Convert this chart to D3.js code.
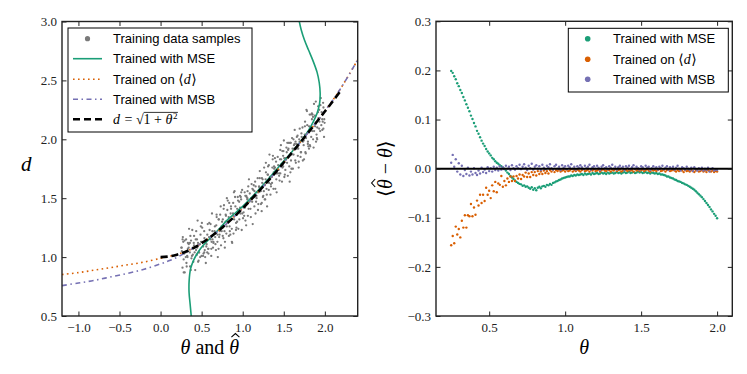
<!DOCTYPE html>
<html>
<head>
<meta charset="utf-8">
<script src="https://cdn.jsdelivr.net/npm/d3@7"></script>
<style>
  body { margin: 0; background: #fff; }
  svg { display: block; }
  svg text { white-space: pre; }
</style>
</head>
<body>
<div id="chart"></div>
<script>
// ---- Data ----

// left panel: training samples [theta, d]
var trainSamples = [
  [0.253,1.08],[0.267,0.91],[0.259,1.05],[0.271,1.17],[0.281,0.98],[0.288,1.03],[0.276,1.13],[0.294,0.87],
  [0.311,1.15],[0.324,1.01],[0.304,1.04],[0.315,0.95],[0.333,1.12],[0.347,1.24],[0.328,1.00],[0.342,1.08],
  [0.359,0.92],[0.371,1.14],[0.356,1.04],[0.363,1.18],[0.376,0.99],[0.394,1.08],[0.386,1.23],[0.399,0.96],
  [0.404,1.12],[0.415,1.04],[0.408,1.18],[0.422,0.89],[0.428,1.15],[0.442,1.02],[0.434,1.22],[0.446,1.08],
  [0.456,1.12],[0.463,0.97],[0.451,1.31],[0.469,1.04],[0.486,1.19],[0.499,1.01],[0.479,1.11],[0.490,1.26],
  [0.508,1.13],[0.522,1.03],[0.503,1.29],[0.517,1.01],[0.534,1.16],[0.546,1.13],[0.531,1.22],[0.538,1.06],
  [0.551,0.95],[0.569,1.19],[0.561,1.11],[0.574,1.28],[0.579,1.07],[0.590,1.17],[0.583,1.03],[0.597,1.23],
  [0.603,1.16],[0.617,1.01],[0.609,1.28],[0.621,1.13],[0.631,1.22],[0.638,1.08],[0.626,1.37],[0.644,1.12],
  [0.661,1.26],[0.674,1.06],[0.654,1.20],[0.665,1.17],[0.683,1.34],[0.697,1.00],[0.678,1.27],[0.692,1.13],
  [0.709,1.32],[0.721,1.22],[0.706,1.07],[0.713,1.17],[0.726,1.36],[0.744,1.22],[0.736,1.10],[0.749,1.30],
  [0.754,1.25],[0.765,1.16],[0.758,1.32],[0.772,1.44],[0.778,1.22],[0.792,1.30],[0.784,1.13],[0.796,1.35],
  [0.806,1.26],[0.813,1.40],[0.801,1.20],[0.819,1.29],[0.836,1.46],[0.849,1.19],[0.829,1.34],[0.840,1.26],
  [0.858,1.41],[0.872,1.12],[0.853,1.37],[0.867,1.24],[0.884,1.46],[0.896,1.32],[0.881,1.35],[0.888,1.20],
  [0.901,1.56],[0.919,1.29],[0.911,1.43],[0.924,1.25],[0.929,1.36],[0.940,1.51],[0.933,1.41],[0.947,1.24],
  [0.953,1.40],[0.967,1.52],[0.959,1.32],[0.971,1.37],[0.981,1.49],[0.988,1.23],[0.976,1.51],[0.994,1.37],
  [1.011,1.38],[1.024,1.55],[1.004,1.33],[1.015,1.43],[1.033,1.31],[1.047,1.51],[1.028,1.42],[1.042,1.27],
  [1.059,1.56],[1.071,1.41],[1.056,1.49],[1.063,1.35],[1.076,1.66],[1.094,1.41],[1.086,1.54],[1.099,1.34],
  [1.104,1.50],[1.115,1.47],[1.108,1.62],[1.122,1.28],[1.128,1.57],[1.142,1.43],[1.134,1.61],[1.146,1.51],
  [1.156,1.37],[1.163,1.47],[1.151,1.64],[1.169,1.50],[1.186,1.40],[1.199,1.60],[1.179,1.55],[1.190,1.45],
  [1.208,1.73],[1.222,1.45],[1.203,1.59],[1.217,1.56],[1.234,1.67],[1.246,1.51],[1.231,1.39],[1.238,1.63],
  [1.251,1.52],[1.269,1.61],[1.261,1.76],[1.274,1.49],[1.279,1.66],[1.290,1.58],[1.283,1.72],[1.297,1.43],
  [1.303,1.70],[1.317,1.57],[1.309,1.77],[1.321,1.63],[1.331,1.68],[1.338,1.53],[1.326,1.87],[1.344,1.60],
  [1.361,1.76],[1.374,1.58],[1.354,1.68],[1.365,1.83],[1.383,1.75],[1.397,1.58],[1.378,1.72],[1.392,1.84],
  [1.409,1.66],[1.421,1.71],[1.406,1.81],[1.413,1.55],[1.426,1.85],[1.444,1.71],[1.436,1.74],[1.449,1.65],
  [1.454,1.83],[1.465,1.95],[1.458,1.71],[1.472,1.79],[1.478,1.64],[1.492,1.86],[1.484,1.76],[1.496,1.90],
  [1.506,1.84],[1.513,1.70],[1.501,1.99],[1.519,1.74],[1.536,1.89],[1.549,1.69],[1.529,1.83],[1.540,1.80],
  [1.558,1.97],[1.572,1.64],[1.553,1.91],[1.567,1.77],[1.584,1.97],[1.596,1.87],[1.581,1.72],[1.588,1.82],
  [1.601,2.01],[1.619,1.87],[1.611,1.75],[1.624,1.95],[1.629,1.92],[1.640,1.82],[1.633,2.08],[1.647,1.80],
  [1.653,1.96],[1.667,1.93],[1.659,2.02],[1.671,1.86],[1.681,1.76],[1.688,2.00],[1.676,1.92],[1.694,2.09],
  [1.711,1.89],[1.724,1.99],[1.704,1.85],[1.715,2.05],[1.733,1.98],[1.747,1.83],[1.728,2.10],[1.742,1.95],
  [1.759,2.15],[1.771,2.01],[1.756,2.04],[1.763,1.89],[1.776,2.25],[1.794,1.98],[1.786,2.12],[1.799,1.94],
  [1.804,2.06],[1.815,2.21],[1.808,2.11],[1.822,1.94],[1.828,2.10],[1.842,2.22],[1.834,2.02],[1.846,2.07],
  [1.856,2.19],[1.863,1.93],[1.851,2.21],[1.869,2.07],[1.886,2.13],[1.899,2.04],[1.879,2.20],[1.890,2.32],
  [1.908,2.10],[1.922,2.18],[1.903,2.01],[1.917,2.23],[1.934,2.15],[1.946,2.29],[1.931,2.09],[1.938,2.18],
  [1.951,2.35],[1.969,2.08],[1.961,2.23],[1.974,2.15],[1.979,2.31],[1.990,2.02],[1.983,2.27],[1.997,2.14],
  [0.257,1.08],[0.268,1.15],[0.282,0.87],[0.293,1.14],[0.307,1.00],[0.318,0.92],[0.332,1.07],[0.343,1.11],
  [0.357,1.12],[0.368,0.89],[0.382,1.01],[0.393,1.02],[0.407,1.10],[0.418,1.09],[0.432,1.06],[0.443,1.15],
  [0.457,0.96],[0.468,1.04],[0.482,1.00],[0.493,1.13],[0.507,1.25],[0.518,1.09],[0.532,1.04],[0.543,1.00],
  [0.557,1.09],[0.568,1.04],[0.582,1.07],[0.593,1.29],[0.607,1.15],[0.618,1.07],[0.632,1.15],[0.643,1.13],
  [0.657,1.22],[0.668,1.11],[0.682,1.36],[0.693,1.19],[0.707,1.32],[0.718,1.19],[0.732,1.43],[0.743,1.26],
  [0.757,1.18],[0.768,1.41],[0.782,1.08],[0.793,1.36],[0.807,1.50],[0.818,1.48],[0.832,1.18],[0.843,1.22],
  [0.857,1.43],[0.868,1.13],[0.882,1.37],[0.893,1.55],[0.907,1.51],[0.918,1.23],[0.932,1.30],[0.943,1.48],
  [0.957,1.47],[0.968,1.42],[0.982,1.55],[0.993,1.57],[1.007,1.42],[1.018,1.35],[1.032,1.52],[1.043,1.52],
  [1.057,1.50],[1.068,1.60],[1.082,1.47],[1.093,1.48],[1.107,1.50],[1.118,1.58],[1.132,1.51],[1.143,1.56],
  [1.157,1.60],[1.168,1.52],[1.182,1.67],[1.193,1.55],[1.207,1.67],[1.218,1.56],[1.232,1.46],[1.243,1.66],
  [1.257,1.56],[1.268,1.49],[1.282,1.80],[1.293,1.53],[1.307,1.70],[1.318,1.78],[1.332,1.66],[1.343,1.62],
  [1.357,1.63],[1.368,1.86],[1.382,1.77],[1.393,1.76],[1.407,1.71],[1.418,1.72],[1.432,1.78],[1.443,1.69],
  [1.457,1.91],[1.468,1.83],[1.482,1.90],[1.493,1.77],[1.507,1.68],[1.518,1.84],[1.532,1.93],[1.543,1.97],
  [1.557,1.92],[1.568,1.97],[1.582,1.97],[1.593,1.75],[1.607,1.92],[1.618,2.00],[1.632,1.96],[1.643,1.98],
  [1.657,1.92],[1.668,2.03],[1.682,1.81],[1.693,1.98],[1.707,1.89],[1.718,2.02],[1.732,1.82],[1.743,1.99],
  [1.757,2.11],[1.768,1.88],[1.782,2.24],[1.793,1.96],[1.807,1.92],[1.818,1.95],[1.832,2.21],[1.843,2.17],
  [1.857,2.00],[1.868,2.30],[1.882,2.11],[1.893,1.98],[1.907,2.00],[1.918,2.28],[1.932,2.25],[1.943,2.07],
  [1.957,2.12],[1.968,2.17],[1.982,2.09],[1.993,2.17]
];

// left panel curves [theta, d]
var mseCurve = [
  [0.376,0.48],[0.36,0.6],[0.347,0.7],[0.348,0.8],[0.365,0.9],[0.40,0.97],[0.437,1.02],[0.49,1.075],
  [0.54,1.115],[0.68,1.215],[0.82,1.32],[1.0,1.43],[1.2,1.575],[1.45,1.775],[1.6,1.895],[1.72,1.995],
  [1.805,2.08],[1.86,2.15],[1.905,2.22],[1.935,2.30],[1.943,2.39],[1.932,2.48],[1.905,2.57],[1.854,2.67],
  [1.80,2.76],[1.753,2.84],[1.712,2.93],[1.683,3.02]
];
var meanDCurve = [
  [-1.2,0.852],[-1.0,0.868],[-0.8,0.89],[-0.6,0.912],[-0.4,0.935],[-0.2,0.958],[0.0,0.99],[0.1,1.006],
  [0.2,1.023],[0.3,1.045],[0.4,1.077],[0.6,1.166],[0.8,1.281],[1.0,1.414],[1.2,1.562],[1.4,1.72],
  [1.6,1.887],[1.8,2.06],[2.0,2.24],[2.1,2.335],[2.2,2.44],[2.3,2.555],[2.4,2.675]
];
var msbCurve = [
  [-1.2,0.758],[-1.0,0.78],[-0.8,0.803],[-0.6,0.833],[-0.4,0.862],[-0.2,0.897],[0.0,0.943],[0.1,0.968],
  [0.2,0.998],[0.3,1.036],[0.4,1.077],[0.6,1.166],[0.8,1.281],[1.0,1.414],[1.2,1.562],[1.4,1.72],
  [1.6,1.887],[1.8,2.06],[2.0,2.24],[2.1,2.335],[2.2,2.44],[2.3,2.555],[2.4,2.675]
];
var trueCurve = [
  [0.0,1.0],[0.1,1.005],[0.2,1.020],[0.3,1.044],[0.4,1.077],[0.5,1.118],[0.6,1.166],[0.7,1.221],
  [0.8,1.281],[0.9,1.345],[1.0,1.414],[1.1,1.487],[1.2,1.562],[1.3,1.640],[1.4,1.720],[1.5,1.803],
  [1.6,1.887],[1.7,1.972],[1.8,2.059],[1.9,2.147],[2.0,2.236],[2.1,2.326],[2.18,2.40]
];

// right panel: bias <theta_hat - theta> on the theta grid 0.25 ... 2.00
var thetaGrid = d3.range(25, 201).map(function(i) { return i / 100; });
var biasMSE = [
  0.199,0.195,0.188,0.182,0.174,0.168,0.160,0.154,0.146,0.139,
  0.131,0.124,0.117,0.108,0.101,0.093,0.086,0.077,0.071,0.064,
  0.057,0.051,0.046,0.040,0.035,0.031,0.027,0.022,0.019,0.015,
  0.012,0.010,0.007,0.005,0.002,0.000,-0.004,-0.008,-0.011,-0.015,
  -0.018,-0.021,-0.024,-0.027,-0.029,-0.031,-0.032,-0.035,-0.034,-0.037,
  -0.036,-0.039,-0.041,-0.038,-0.043,-0.040,-0.044,-0.039,-0.037,-0.040,
  -0.036,-0.035,-0.037,-0.033,-0.034,-0.031,-0.033,-0.029,-0.028,-0.026,
  -0.025,-0.023,-0.022,-0.020,-0.019,-0.018,-0.017,-0.016,-0.016,-0.014,
  -0.015,-0.013,-0.014,-0.012,-0.013,-0.012,-0.011,-0.013,-0.010,-0.012,
  -0.011,-0.010,-0.012,-0.009,-0.011,-0.010,-0.009,-0.011,-0.010,-0.008,
  -0.010,-0.009,-0.011,-0.008,-0.010,-0.009,-0.008,-0.010,-0.009,-0.007,
  -0.009,-0.008,-0.010,-0.008,-0.007,-0.009,-0.008,-0.006,-0.009,-0.008,
  -0.007,-0.009,-0.008,-0.006,-0.008,-0.007,-0.009,-0.008,-0.007,-0.009,
  -0.008,-0.010,-0.008,-0.009,-0.010,-0.009,-0.011,-0.010,-0.012,-0.012,
  -0.013,-0.014,-0.016,-0.016,-0.018,-0.019,-0.020,-0.022,-0.023,-0.025,
  -0.026,-0.027,-0.029,-0.030,-0.032,-0.033,-0.035,-0.037,-0.039,-0.041,
  -0.043,-0.046,-0.049,-0.052,-0.055,-0.058,-0.062,-0.066,-0.070,-0.074,
  -0.078,-0.083,-0.087,-0.092,-0.096,-0.101
];
var biasMeanD = [
  -0.156,-0.137,-0.152,-0.118,-0.134,-0.123,-0.140,-0.106,-0.120,-0.095,
  -0.120,-0.095,-0.097,-0.072,-0.097,-0.079,-0.094,-0.065,-0.075,-0.053,
  -0.070,-0.053,-0.066,-0.039,-0.053,-0.045,-0.060,-0.034,-0.046,-0.027,
  -0.048,-0.030,-0.033,-0.015,-0.037,-0.025,-0.034,-0.020,-0.027,-0.016,
  -0.025,-0.016,-0.025,-0.015,-0.020,-0.012,-0.021,-0.013,-0.016,-0.008,
  -0.017,-0.010,-0.017,-0.007,-0.013,-0.007,-0.014,-0.005,-0.011,-0.006,
  -0.011,-0.004,-0.009,-0.005,-0.010,-0.003,
  -0.006,-0.002,-0.007,-0.003,-0.005,-0.002,-0.006,-0.004,-0.003,-0.006,
  -0.002,-0.005,-0.004,-0.001,-0.006,-0.003,-0.005,-0.002,-0.004,-0.006,
  -0.003,-0.001,-0.005,-0.004,-0.002,-0.006,-0.003,-0.004,-0.001,-0.005,
  -0.004,-0.002,-0.006,-0.003,-0.001,-0.004,-0.005,-0.002,-0.003,-0.006,
  -0.002,-0.004,-0.001,-0.005,-0.003,-0.002,-0.006,-0.004,-0.001,-0.003,
  -0.005,-0.002,-0.004,-0.003,-0.006,-0.001,-0.004,-0.002,-0.005,-0.003,
  -0.002,-0.005,-0.003,-0.001,-0.004,-0.006,-0.002,-0.004,-0.003,-0.005,
  -0.003,-0.001,-0.005,-0.004,-0.002,-0.006,-0.003,-0.002,-0.005,-0.004,
  -0.002,-0.004,-0.006,-0.003,-0.005,-0.002,-0.004,-0.007,-0.003,-0.005,
  -0.004,-0.006,-0.003,-0.005,-0.007,-0.004,-0.002,-0.006,-0.005,-0.003,
  -0.006,-0.004,-0.007,-0.003,-0.005,-0.006,-0.004,-0.007,-0.005,-0.006
];
var biasMSB = [
  0.012,0.028,0.004,0.019,-0.006,0.011,-0.012,0.006,-0.015,-0.003,
  -0.011,0.002,-0.014,-0.006,-0.012,0.001,-0.009,-0.013,-0.004,-0.010,
  0.002,-0.007,-0.002,-0.009,0.003,-0.005,0.001,-0.006,0.004,-0.003,
  0.002,-0.004,0.005,-0.002,0.003,-0.001,0.006,0.000,0.004,-0.003,
  0.007,0.001,
  -0.002,0.005,0.001,0.008,
  -0.001,0.004,0.009,0.002,-0.003,0.006,0.001,0.010,-0.002,0.004,
  0.007,0.000,0.005,-0.003,0.008,0.002,-0.001,0.006,0.003,0.009,
  0.001,-0.002,0.005,0.008,0.000,0.004,-0.003,0.007,0.002,0.005,
  -0.001,0.006,0.003,0.009,0.000,0.004,-0.002,0.005,0.002,0.007,
  0.003,-0.001,0.006,0.001,0.004,0.008,-0.002,0.003,0.005,0.000,
  0.006,0.002,-0.003,0.004,0.007,0.001,0.003,-0.001,0.005,0.002,
  0.008,0.000,0.004,-0.002,0.003,0.006,0.001,0.004,-0.003,0.005,
  0.002,0.006,-0.001,0.003,0.007,0.000,0.004,0.001,-0.002,0.005,
  0.003,-0.001,0.006,0.002,0.004,-0.003,0.001,0.005,0.000,0.003,
  -0.002,0.004,0.001,0.006,-0.001,0.002,0.005,-0.003,0.003,0.000,
  0.004,-0.002,0.002,0.006,0.000,-0.004,0.003,0.001,-0.002,0.004,
  0.000,-0.003,0.002,-0.005,0.003,-0.001,-0.004,0.001,-0.002,0.002,
  -0.004,0.000,-0.003,0.002,-0.006,-0.001,0.001,-0.004,-0.002,-0.003
];

// ticks
var leftXTicks = [-1.0, -0.5, 0.0, 0.5, 1.0, 1.5, 2.0];
var leftYTicks = [0.5, 1.0, 1.5, 2.0, 2.5, 3.0];
var rightXTicks = [0.5, 1.0, 1.5, 2.0];
var rightYTicks = [-0.3, -0.2, -0.1, 0.0, 0.1, 0.2, 0.3];

// ---- Setup ----
var W = 747, H = 374;
var serif = "'Liberation Serif', 'DejaVu Serif', serif";
var sans = "'Liberation Sans', Arial, sans-serif";
var green = "#1b9e77", orange = "#d95f02", purple = "#7570b3", grey = "#7a7a7a", ink = "#222";

var svg = d3.select("#chart").append("svg")
  .attr("width", W)
  .attr("height", H)
  .style("background", "#fff");

var xL = d3.scaleLinear().domain([-1.2, 2.4]).range([62, 357.7]);
var yL = d3.scaleLinear().domain([0.5, 3.0]).range([316, 21.5]);
var xR = d3.scaleLinear().domain([0.15, 2.1]).range([436, 732.3]);
var yR = d3.scaleLinear().domain([-0.3, 0.3]).range([316, 21.3]);

var defs = svg.append("defs");
function clipFor(id, x, y) {
  defs.append("clipPath").attr("id", id).append("rect")
    .attr("x", x.range()[0]).attr("y", y.range()[1])
    .attr("width", x.range()[1] - x.range()[0])
    .attr("height", y.range()[0] - y.range()[1]);
}
clipFor("clipL", xL, yL);
clipFor("clipR", xR, yR);

// ticks on all four sides, pointing inwards (labels only bottom/left)
function drawAxes(x, y, xt, yt) {
  var g = svg.append("g");
  var fmt = d3.format(".1f");
  var y0 = y.range()[0], y1 = y.range()[1], x0 = x.range()[0], x1 = x.range()[1];
  g.append("g").attr("transform", "translate(0," + y0 + ")")
    .call(d3.axisBottom(x).tickValues(xt).tickSize(-4.5).tickPadding(7).tickFormat(fmt));
  g.append("g").attr("transform", "translate(0," + y1 + ")")
    .call(d3.axisTop(x).tickValues(xt).tickSize(-4.5).tickFormat(""));
  g.append("g").attr("transform", "translate(" + x0 + ",0)")
    .call(d3.axisLeft(y).tickValues(yt).tickSize(-4.5).tickPadding(5).tickFormat(fmt));
  g.append("g").attr("transform", "translate(" + x1 + ",0)")
    .call(d3.axisRight(y).tickValues(yt).tickSize(-4.5).tickFormat(""));
  g.selectAll(".domain").remove();
  g.selectAll("line").attr("stroke", ink).attr("stroke-width", 1);
  g.selectAll("text").attr("fill", ink)
    .style("font-family", serif).style("font-size", "13px");
  g.append("rect")
    .attr("x", x0).attr("y", y1).attr("width", x1 - x0).attr("height", y0 - y1)
    .attr("fill", "none").attr("stroke", ink).attr("stroke-width", 1.4);
}

// ---- Left panel ----
var lineL = d3.line()
  .x(function(d) { return xL(d[0]); })
  .y(function(d) { return yL(d[1]); })
  .curve(d3.curveCatmullRom);

var plotL = svg.append("g").attr("clip-path", "url(#clipL)");

plotL.selectAll("circle.sample")
  .data(trainSamples)
  .enter().append("circle")
  .attr("class", "sample")
  .attr("cx", function(d) { return xL(d[0]); })
  .attr("cy", function(d) { return yL(d[1]); })
  .attr("r", 1.15)
  .attr("fill", grey);

plotL.append("path").datum(mseCurve)
  .attr("d", lineL).attr("fill", "none")
  .attr("stroke", green).attr("stroke-width", 1.6);
plotL.append("path").datum(meanDCurve)
  .attr("d", lineL).attr("fill", "none")
  .attr("stroke", orange).attr("stroke-width", 1.6)
  .attr("stroke-dasharray", "1.6,3.4");
plotL.append("path").datum(msbCurve)
  .attr("d", lineL).attr("fill", "none")
  .attr("stroke", purple).attr("stroke-width", 1.6)
  .attr("stroke-dasharray", "5,3.5,1.5,3.5");
plotL.append("path").datum(trueCurve)
  .attr("d", lineL).attr("fill", "none")
  .attr("stroke", "#000").attr("stroke-width", 2.6)
  .attr("stroke-dasharray", "7,4");

drawAxes(xL, yL, leftXTicks, leftYTicks);

// ---- Right panel ----
var plotR = svg.append("g").attr("clip-path", "url(#clipR)");
var rightSeries = [
  { values: biasMSE, color: green },
  { values: biasMeanD, color: orange },
  { values: biasMSB, color: purple }
];
rightSeries.forEach(function(s) {
  plotR.append("g").selectAll("circle")
    .data(s.values)
    .enter().append("circle")
    .attr("cx", function(d, i) { return xR(thetaGrid[i]); })
    .attr("cy", function(d) { return yR(d); })
    .attr("r", 1.2)
    .attr("fill", s.color);
});
plotR.append("line")
  .attr("x1", xR.range()[0]).attr("x2", xR.range()[1])
  .attr("y1", yR(0)).attr("y2", yR(0))
  .attr("stroke", "#000").attr("stroke-width", 2);

drawAxes(xR, yR, rightXTicks, rightYTicks);

// ---- Legends ----
// appends text segments one after another on one baseline
function richText(g, x, y, parts) {
  var cx = x, spans = [];
  parts.forEach(function(p) {
    var t = g.append("text")
      .attr("x", cx).attr("y", y + (p.dy || 0))
      .style("font-family", p.serif ? serif : sans)
      .style("font-style", p.italic ? "italic" : "normal")
      .style("font-size", (p.size || 13) + "px")
      .attr("fill", "#000")
      .text(p.t);
    spans.push({ x: cx, w: t.node().getComputedTextLength() });
    cx += spans[spans.length - 1].w + (p.gap || 0);
  });
  return spans;
}

var legL = svg.append("g");
legL.append("rect").attr("x", 68).attr("y", 28).attr("width", 184).attr("height", 104)
  .attr("fill", "#fff").attr("stroke", "#000").attr("stroke-width", 1);
var rowsL = [38.7, 58.7, 79.3, 99.3, 119.3];
legL.append("circle").attr("cx", 87.5).attr("cy", rowsL[0]).attr("r", 2.6).attr("fill", grey);
legL.append("line").attr("x1", 73).attr("x2", 102).attr("y1", rowsL[1]).attr("y2", rowsL[1])
  .attr("stroke", green).attr("stroke-width", 1.6);
legL.append("line").attr("x1", 73).attr("x2", 102).attr("y1", rowsL[2]).attr("y2", rowsL[2])
  .attr("stroke", orange).attr("stroke-width", 1.6).attr("stroke-dasharray", "1.6,3.4");
legL.append("line").attr("x1", 73).attr("x2", 102).attr("y1", rowsL[3]).attr("y2", rowsL[3])
  .attr("stroke", purple).attr("stroke-width", 1.6).attr("stroke-dasharray", "5,3.5,1.5,3.5");
legL.append("line").attr("x1", 73).attr("x2", 102).attr("y1", rowsL[4]).attr("y2", rowsL[4])
  .attr("stroke", "#000").attr("stroke-width", 2.6).attr("stroke-dasharray", "7,4");

var tx = 113, bl = 4.6;
var meanDParts = [
  { t: "Trained on " }, { t: "\u27E8", serif: true, size: 14 },
  { t: "d", serif: true, italic: true, size: 14, gap: 0.5 }, { t: "\u27E9", serif: true, size: 14 }];
richText(legL, tx, rowsL[0] + bl, [{ t: "Training data samples" }]);
richText(legL, tx, rowsL[1] + bl, [{ t: "Trained with MSE" }]);
richText(legL, tx, rowsL[2] + bl, meanDParts);
richText(legL, tx, rowsL[3] + bl, [{ t: "Trained with MSB" }]);
var f = richText(legL, tx, rowsL[4] + bl, [
  { t: "d", serif: true, italic: true, size: 14, gap: 1 }, { t: " = ", serif: true, size: 14 },
  { t: "\u221A", serif: true, size: 14 }, { t: "1 + ", serif: true, size: 14 },
  { t: "\u03B8", serif: true, italic: true, size: 14, gap: 0.5 }, { t: "2", serif: true, size: 9, dy: -5 }]);
legL.append("line")
  .attr("x1", f[3].x).attr("x2", f[5].x + f[5].w + 0.5)
  .attr("y1", rowsL[4] + bl - 11.5).attr("y2", rowsL[4] + bl - 11.5)
  .attr("stroke", "#000").attr("stroke-width", 0.8);

var legR = svg.append("g");
legR.append("rect").attr("x", 568.3).attr("y", 28.3).attr("width", 160).attr("height", 63.7)
  .attr("fill", "#fff").attr("stroke", "#000").attr("stroke-width", 1);
var rowsR = [38.7, 59.3, 79.3];
[green, orange, purple].forEach(function(c, i) {
  legR.append("circle").attr("cx", 587.7).attr("cy", rowsR[i]).attr("r", 2.8).attr("fill", c);
});
richText(legR, 613, rowsR[0] + bl, [{ t: "Trained with MSE" }]);
richText(legR, 613, rowsR[1] + bl, meanDParts);
richText(legR, 613, rowsR[2] + bl, [{ t: "Trained with MSB" }]);

// ---- Axis titles ----
// math label built of tspans; parts with hat get a circumflex drawn over them
function mathLabel(g, x, y, size, parts) {
  var t = g.append("text")
    .attr("x", x).attr("y", y)
    .attr("text-anchor", "middle")
    .style("font-family", serif).style("font-size", size + "px");
  var idx = 0, hats = [];
  parts.forEach(function(p) {
    t.append("tspan").style("font-style", p.italic ? "italic" : "normal").text(p.t);
    if (p.hat) hats.push(idx);
    idx += p.t.length;
  });
  hats.forEach(function(i) {
    var e = t.node().getExtentOfChar(i);
    var cx = e.x + e.width / 2 + size * 0.06;
    g.append("path")
      .attr("d", "M" + (cx - size * 0.2) + "," + (y - size * 0.84) +
                 "L" + cx + "," + (y - size * 1.02) +
                 "L" + (cx + size * 0.2) + "," + (y - size * 0.84))
      .attr("fill", "none").attr("stroke", "#000").attr("stroke-width", 1.1);
  });
}

svg.append("text")
  .attr("x", 21).attr("y", 171)
  .style("font-family", serif).style("font-style", "italic").style("font-size", "21px")
  .text("d");

mathLabel(svg, (xL.range()[0] + xL.range()[1]) / 2, 354, 20, [
  { t: "\u03B8", italic: true }, { t: " and " }, { t: "\u03B8", italic: true, hat: true }]);

var ylab = svg.append("g")
  .attr("transform", "translate(392," + ((yR.range()[0] + yR.range()[1]) / 2) + ") rotate(-90)");
mathLabel(ylab, 0, 0, 20, [
  { t: "\u27E8" }, { t: "\u03B8", italic: true, hat: true }, { t: " \u2212 " },
  { t: "\u03B8", italic: true }, { t: "\u27E9" }]);

mathLabel(svg, (xR.range()[0] + xR.range()[1]) / 2, 354, 20, [{ t: "\u03B8", italic: true }]);
</script>
</body>
</html>
